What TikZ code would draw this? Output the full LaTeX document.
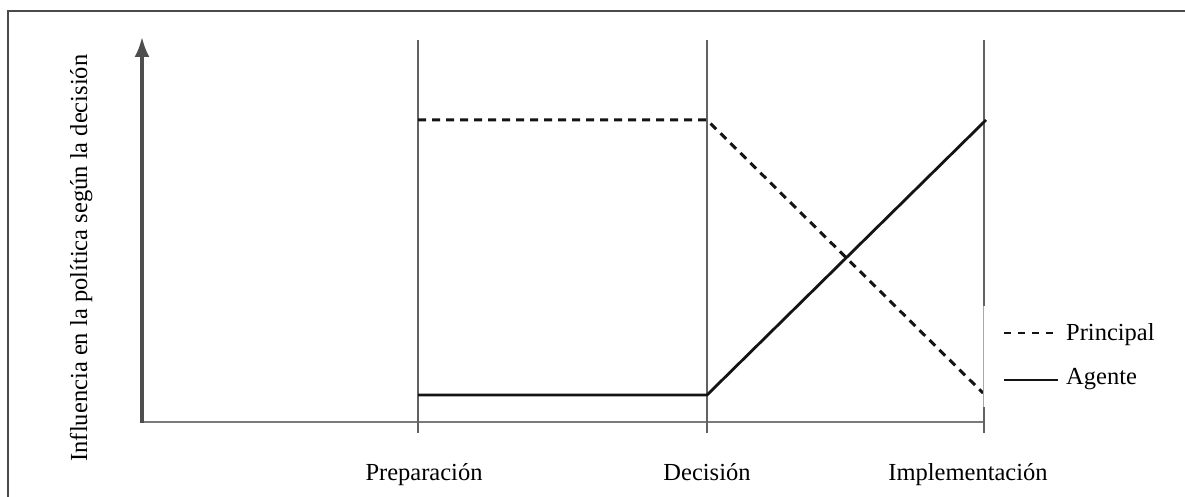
\documentclass[tikz,border=0pt]{standalone}
\usepackage{fontspec}
\setmainfont{Liberation Serif}
\usetikzlibrary{arrows.meta}
\definecolor{framegray}{HTML}{4A4A4A}
\definecolor{axisgray}{HTML}{4E4E4E}
\definecolor{basegray}{HTML}{7A7A7A}
\definecolor{stagegray}{HTML}{626262}
\definecolor{curveink}{HTML}{141414}
\definecolor{edgegray}{HTML}{A8A8A8}
\begin{document}
\begin{tikzpicture}[x=1pt,y=-1pt,
  lbl/.style={font=\fontsize{24.5}{29}\selectfont, inner sep=0pt, text=black},
  frameline/.style={draw=framegray, line width=1.6pt},
  yaxis/.style={draw=axisgray, line width=3.2pt, -{Latex[length=20pt,width=15pt]}},
  xaxis/.style={draw=basegray, line width=2.2pt},
  stageline/.style={draw=stagegray, line width=2.8pt},
  principal/.style={draw=curveink, line width=3pt, dash pattern=on 8pt off 6pt},
  agente/.style={draw=curveink, line width=2.8pt},
  keydash/.style={draw=curveink, line width=1.2pt, dash pattern=on 7pt off 7pt},
  keysolid/.style={draw=curveink, line width=1.2pt}]

\useasboundingbox (0,0) rectangle (1185,497);

% outer frame (top and left edges)
\draw[frameline] (8,497) -- (8,11) -- (1185,11);

% axes
\coordinate (origin) at (142,423);
\coordinate (ytop) at (142,37);
\coordinate (xend) at (984,422);
\draw[xaxis] (142,422) -- (xend);
\draw[yaxis] (origin) -- (ytop);

% stage separators
\coordinate (prepT) at (418,40);  \coordinate (prepB) at (418,433);
\coordinate (decT)  at (707,40);  \coordinate (decB)  at (707,433);
\coordinate (impT)  at (984,40);  \coordinate (impB)  at (984,433);
\draw[stageline] (prepT) -- (prepB);
\draw[stageline] (decT) -- (decB);
\draw[stageline] (impT) -- (impB);

% influence curves
\coordinate (p1) at (418,120); \coordinate (p2) at (707,120); \coordinate (p3) at (983,393);
\coordinate (a1) at (418,395); \coordinate (a2) at (707,395); \coordinate (a3) at (986,120);
\draw[principal] (p1) -- (p2) -- (p3);
\draw[agente, line join=round] (a1) -- (a2) -- (a3);

% stage labels
\node[lbl, anchor=base] (prep) at (424,480) {Preparación};
\node[lbl, anchor=base] (dec)  at (707,480) {Decisión};
\node[lbl, anchor=base] (imp)  at (968,480) {Implementación};

% vertical axis label
\node[lbl, rotate=90, anchor=base] (ylabel) at (87,258) {Influencia en la política según la decisión};

% legend
\node[fill=white, inner sep=0pt, minimum width=202pt, minimum height=101pt,
      anchor=north west] (legend) at (983,306) {};
\draw[draw=edgegray, line width=0.8pt] (legend.north west) -- (legend.south west);
\coordinate (k1a) at (1004,333); \coordinate (k1b) at (1053,333);
\coordinate (k2a) at (1004,380); \coordinate (k2b) at (1058,380);
\draw[keydash] (k1a) -- (k1b);
\draw[keysolid] (k2a) -- (k2b);
\node[lbl, anchor=base west] (kp) at (1066,340) {Principal};
\node[lbl, anchor=base west] (ka) at (1066,384) {Agente};
\end{tikzpicture}
\end{document}
